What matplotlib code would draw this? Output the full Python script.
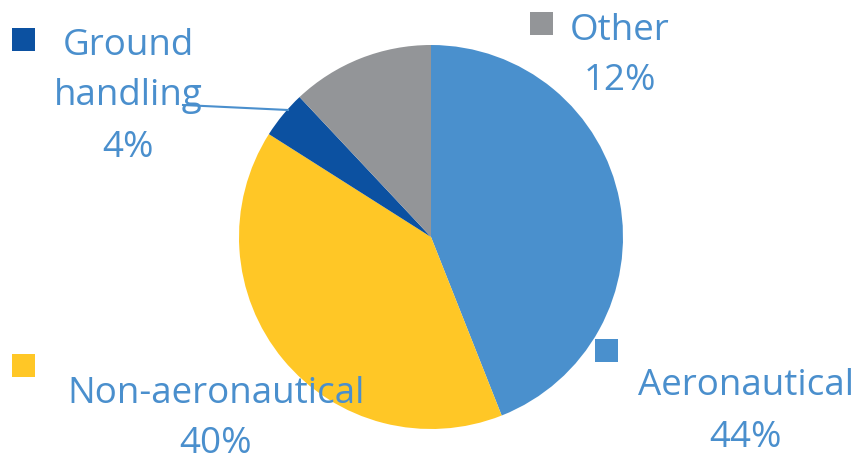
import matplotlib.pyplot as plt
from matplotlib.patches import Rectangle

# revenue split
labels = ['Aeronautical', 'Non-aeronautical', 'Ground\nhandling', 'Other']
shares = [44, 40, 4, 12]
colors = ['#4a90cd', '#ffc726', '#0c51a1', '#939598']
text_color = '#4a8fcd'

fig = plt.figure(figsize=(8.58, 4.56), dpi=100)
ax = fig.add_axes([0, 0, 1, 1])
ax.set_xlim(0, 858)
ax.set_ylim(456, 0)  # pixel-like coords, y down
ax.set_aspect('equal')
ax.axis('off')

# y axis is inverted, so counterclockwise in data = clockwise on screen
ax.pie(shares, colors=colors, startangle=-90, counterclock=True,
       center=(431, 238), radius=192, frame=True,
       wedgeprops=dict(linewidth=0, antialiased=True))
ax.set_xlim(0, 858)
ax.set_ylim(456, 0)
ax.axis('off')

# label positions: key square (x, y) and text centre x, baselines
label_pos = [
    ((595, 340), 746, [395, 447]),
    ((12, 355), 216, [403, 453]),
    ((12, 29), 128, [55, 105, 157]),
    ((530, 13), 620, [40, 90]),
]

font = dict(family=['Open Sans', 'DejaVu Sans'], size=26.5, color=text_color)
for (lab, val, col, (key, cx, bases)) in zip(labels, shares, colors, label_pos):
    ax.add_patch(Rectangle(key, 23, 23, facecolor=col, edgecolor='none'))
    lines = lab.split('\n') + [f'{val}%']
    for line, b in zip(lines, bases):
        ax.text(cx, b, line, ha='center', va='baseline', **font)

# leader line for the small slice
ax.plot([183, 288], [106, 111], color=text_color, linewidth=1.5)

fig.savefig('out.png', dpi=100)
